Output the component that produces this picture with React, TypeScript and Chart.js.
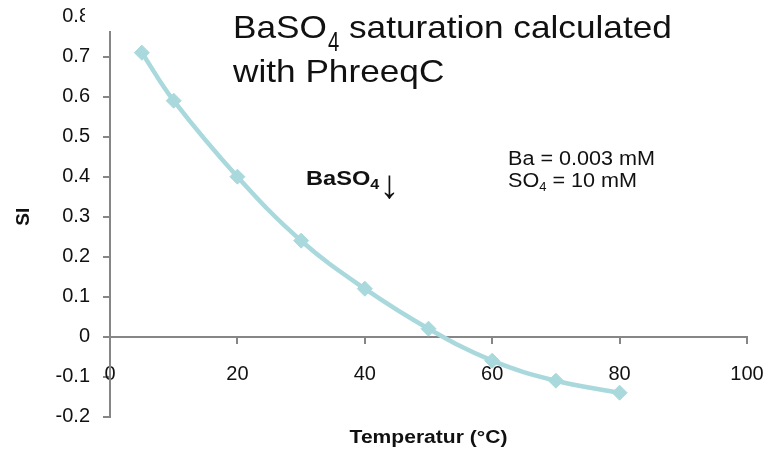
import React, { useEffect, useRef } from 'react';
import { Chart, registerables } from 'chart.js';

Chart.register(...registerables);

// ---- data ----
const temperatures = [5, 10, 20, 30, 40, 50, 60, 70, 80];
const siValues = [0.71, 0.59, 0.4, 0.24, 0.12, 0.02, -0.06, -0.11, -0.14];
const xTickValues = [0, 20, 40, 60, 80, 100];
const yTickValues = [0.8, 0.7, 0.6, 0.5, 0.4, 0.3, 0.2, 0.1, 0, -0.1, -0.2];

// ---- texts ----
const titleLine1 = ['BaSO', '4', ' saturation calculated'];
const titleLine2 = 'with PhreeqC';
const precipLabel = ['BaSO', '4', '\u2193'];
const concLine1 = 'Ba = 0.003 mM';
const concLine2 = ['SO', '4', ' = 10 mM'];
const xTitle = 'Temperatur (\u00B0C)';
const yTitle = 'SI';

const LINE_COLOR = '#A9D9DC';
const AXIS_COLOR = '#868686';
const TEXT_COLOR = '#111111';
const FONT = "'Liberation Sans', Arial, sans-serif";

function drawText(
  ctx: CanvasRenderingContext2D,
  text: string,
  x: number,
  y: number,
  font: string,
  hs: number,
  align: 'left' | 'center' = 'left'
): number {
  ctx.save();
  ctx.font = font;
  ctx.textAlign = 'left';
  ctx.textBaseline = 'alphabetic';
  const w = ctx.measureText(text).width * hs;
  const dx = align === 'center' ? x - w / 2 : x;
  ctx.translate(dx, y);
  ctx.scale(hs, 1);
  ctx.fillText(text, 0, 0);
  ctx.restore();
  return dx + w;
}

const annotationPlugin = {
  id: 'annotations',
  afterDraw(chart: any) {
    const ctx: CanvasRenderingContext2D = chart.ctx;
    const area = chart.chartArea;
    ctx.save();
    // white box cropping the top of the value axis (as in the reference)
    ctx.fillStyle = '#ffffff';
    ctx.fillRect(85, 0, 140, 31);

    ctx.fillStyle = TEXT_COLOR;
    // title
    let x = drawText(ctx, titleLine1[0], 233, 38, `32px ${FONT}`, 1.1);
    x = drawText(ctx, titleLine1[1], x + 1, 51, `27px ${FONT}`, 0.75);
    drawText(ctx, titleLine1[2], x, 38, `32px ${FONT}`, 1.1);
    drawText(ctx, titleLine2, 233, 82, `32px ${FONT}`, 1.1);

    // precipitation label
    x = drawText(ctx, precipLabel[0], 306, 185, `bold 20px ${FONT}`, 1.18);
    drawText(ctx, precipLabel[1], x, 189, `bold 14px ${FONT}`, 1.15);
    // arrow glyph fitted to height
    ctx.font = `100px ${FONT}`;
    const m = ctx.measureText(precipLabel[2]);
    const h100 = m.actualBoundingBoxAscent + m.actualBoundingBoxDescent || 100;
    const size = (100 * 24) / h100;
    ctx.font = `${size}px ${FONT}`;
    ctx.textAlign = 'left';
    ctx.textBaseline = 'alphabetic';
    const m2 = ctx.measureText(precipLabel[2]);
    const ax = 389.5 - (m2.actualBoundingBoxRight - m2.actualBoundingBoxLeft) / 2;
    ctx.fillText(precipLabel[2], ax, 200 - m2.actualBoundingBoxDescent);

    // concentrations
    drawText(ctx, concLine1, 508, 165, `20px ${FONT}`, 1.08);
    x = drawText(ctx, concLine2[0], 508, 186.5, `20px ${FONT}`, 1.08);
    x = drawText(ctx, concLine2[1], x, 190.5, `13px ${FONT}`, 1.0);
    drawText(ctx, concLine2[2], x, 186.5, `20px ${FONT}`, 1.08);

    // x axis title
    drawText(ctx, xTitle, (area.left + area.right) / 2, 443, `bold 18px ${FONT}`, 1.17, 'center');
    ctx.restore();
  },
};

export default function App() {
  const canvasRef = useRef<HTMLCanvasElement | null>(null);

  useEffect(() => {
    document.body.style.margin = '0';
    const canvas = canvasRef.current;
    if (!canvas) return;
    const chart = new Chart(canvas, {
      type: 'line',
      data: {
        datasets: [
          {
            data: temperatures.map((t, i) => ({ x: t, y: siValues[i] })),
            borderColor: LINE_COLOR,
            backgroundColor: LINE_COLOR,
            borderWidth: 4.5,
            tension: 0.4,
            pointStyle: 'rectRot',
            pointRadius: 7.5,
            pointBorderWidth: 1,
            pointBackgroundColor: LINE_COLOR,
            pointBorderColor: LINE_COLOR,
            clip: false as any,
          },
        ],
      },
      options: {
        responsive: false,
        animation: false,
        layout: { padding: { top: 16.7, right: 24, bottom: 34.3, left: 0 } },
        plugins: {
          legend: { display: false },
          tooltip: { enabled: false },
          title: { display: false },
        },
        scales: {
          x: {
            type: 'linear',
            position: { y: 0 } as any,
            min: 0,
            max: 100,
            afterBuildTicks: (s: any) => {
              s.ticks = xTickValues.map((v) => ({ value: v }));
            },
            afterFit: (s: any) => {
              s.height = 34.3;
              s.paddingTop = 0;
              s.paddingBottom = 0;
              s.paddingLeft = 0;
              s.paddingRight = 0;
            },
            grid: {
              display: true,
              drawOnChartArea: false,
              drawTicks: true,
              tickLength: 6,
              color: AXIS_COLOR,
              lineWidth: 2,
            },
            border: { display: true, color: AXIS_COLOR, width: 2 },
            ticks: {
              color: TEXT_COLOR,
              font: { family: FONT, size: 20 },
              padding: 20,
              maxRotation: 0,
              autoSkip: false,
              callback: (v: any) => String(v),
            },
          },
          y: {
            type: 'linear',
            position: 'left',
            min: -0.2,
            max: 0.8,
            afterBuildTicks: (s: any) => {
              s.ticks = yTickValues.map((v) => ({ value: v }));
            },
            afterFit: (s: any) => {
              s.width = 110;
              s.paddingTop = 0;
              s.paddingBottom = 0;
            },
            grid: {
              display: true,
              drawOnChartArea: false,
              drawTicks: true,
              tickLength: 7,
              color: AXIS_COLOR,
              lineWidth: 2,
            },
            border: { display: true, color: AXIS_COLOR, width: 2 },
            ticks: {
              color: TEXT_COLOR,
              font: { family: FONT, size: 20 },
              padding: 13,
              autoSkip: false,
              callback: (v: any) => {
                const n = Math.round(Number(v) * 10) / 10;
                return n === 0 ? '0' : String(n);
              },
            },
            title: {
              display: true,
              text: yTitle,
              color: TEXT_COLOR,
              font: { family: FONT, size: 19, weight: 'bold' },
              padding: { top: 12, bottom: 0 },
            },
          },
        },
      },
      plugins: [annotationPlugin],
    });
    return () => chart.destroy();
  }, []);

  return (
    <div style={{ width: 771, height: 451, background: '#ffffff' }}>
      <canvas ref={canvasRef} width={771} height={451} style={{ display: 'block' }} />
    </div>
  );
}
